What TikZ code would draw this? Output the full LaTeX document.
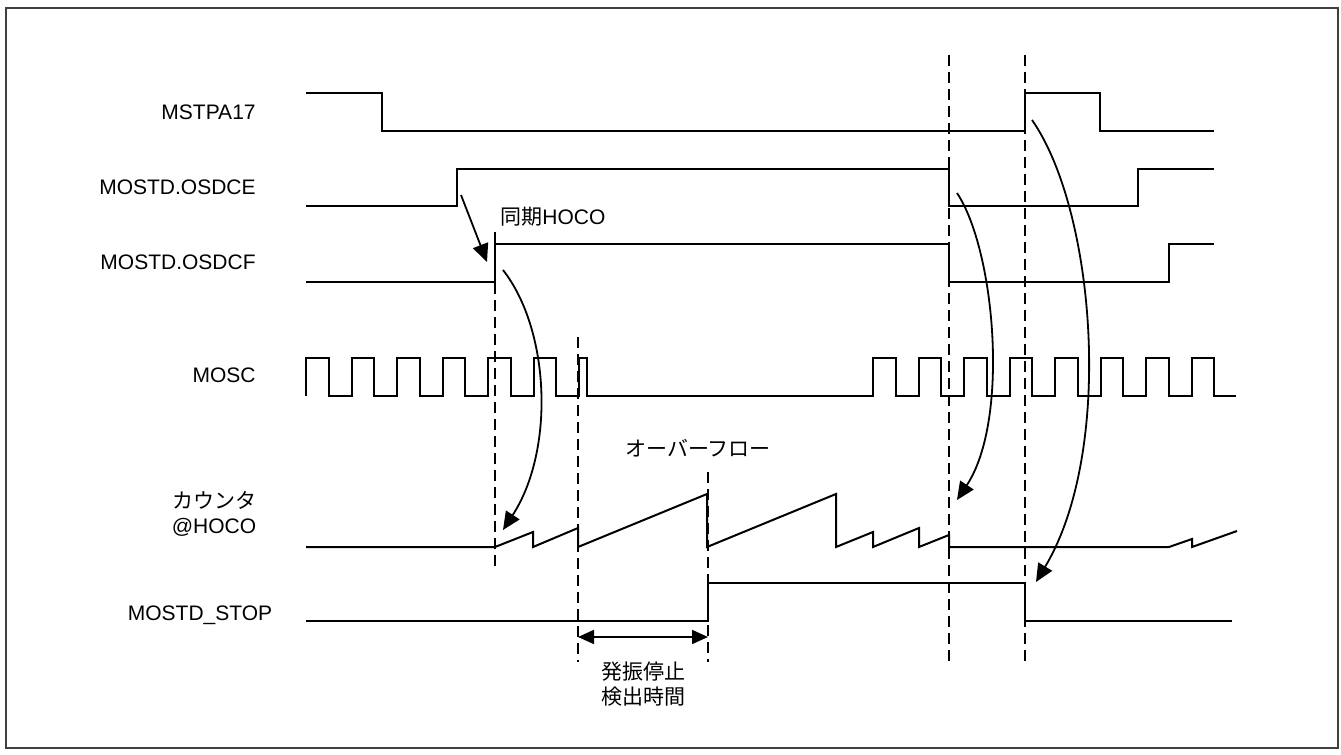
\documentclass[tikz,border=0pt]{standalone}
\usepackage{fontspec}
\setmainfont{Liberation Sans}
\newfontfamily\jpfont{Noto Sans CJK JP}
\usetikzlibrary{arrows.meta}

\begin{document}
\begin{tikzpicture}[x=0.5pt, y=-0.5pt,
                    signal/.style={line width=1pt, line join=miter},
                    marker/.style={line width=1pt, dash pattern=on 5.5pt off 3pt},
                    cause/.style={-{Triangle[length=9pt, width=8pt]}, line width=0.9pt},
                    span/.style={{Triangle[length=8pt, width=7pt]}-{Triangle[length=8pt, width=7pt]}, line width=0.9pt},
                    sigtext/.style={font=\fontsize{10.5}{12.5}\selectfont, inner sep=0pt}]

    \useasboundingbox (0,0) rectangle (1341,755);
    \draw[black!75, line width=0.75pt] (6,8) rectangle (1338,748);

    % signal names
    \node[sigtext, anchor=east] (n_mstpa) at (256,112) {MSTPA17};
    \node[sigtext, anchor=east] (n_osdce) at (256,187) {MOSTD.OSDCE};
    \node[sigtext, anchor=east] (n_osdcf) at (256,262) {MOSTD.OSDCF};
    \node[sigtext, anchor=east] (n_mosc)  at (256,375) {MOSC};
    \node[sigtext, align=center] (n_cnt)  at (214,514) {{\jpfont カウンタ}\\@HOCO};
    \node[sigtext] (n_stop) at (200,615) {MOSTD\_STOP};

    % waveforms
    \draw[signal] (306,93) -- (382,93) -- (382,131) -- (1025,131) -- (1025,93)
                  -- (1100,93) -- (1100,131) -- (1214,131);
    \draw[signal] (306,206) -- (457,206) -- (457,169) -- (949,169) -- (949,206)
                  -- (1138,206) -- (1138,169) -- (1214,169);
    \draw[signal] (306,282) -- (495,282) -- (495,244) -- (949,244) -- (949,282)
                  -- (1169,282) -- (1169,244) -- (1214,244);
    \draw[signal] (306,396) \foreach \k in {0,...,5} {
                      -- ({306+45.5*\k},358) -- ({328.75+45.5*\k},358)
                      -- ({328.75+45.5*\k},396) -- ({351.5+45.5*\k},396)}
                  -- (579,358) -- (586.5,358) -- (586.5,396) -- (873,396)
                  \foreach \k in {0,...,7} {
                      -- ({873+45.5*\k},396) -- ({873+45.5*\k},358)
                      -- ({895.75+45.5*\k},358) -- ({895.75+45.5*\k},396)}
                  -- (1236,396);
    \draw[signal] (306,547) -- (495,547) -- (533,532) -- (533,547) -- (578,528) -- (578,547)
                  -- (707,494) -- (707,547) -- (836,494) -- (836,547) -- (873,532) -- (873,547)
                  -- (919,528) -- (919,547) -- (949,535) -- (949,547) -- (1169,547)
                  -- (1192,539) -- (1192,547) -- (1237,531);
    \draw[signal] (306,621) -- (708,621) -- (708,583) -- (1025,583) -- (1025,621) -- (1232,621);

    % timing markers
    \draw[marker] (495,232) -- (495,570);
    \draw[marker] (578,337) -- (578,662);
    \draw[marker] (708,472) -- (708,662);
    \draw[marker] (949,55) -- (949,662);
    \draw[marker] (1025,55) -- (1025,662);

    % annotations
    \node[sigtext, anchor=west] (n_sync) at (500,217) {{\jpfont 同期}HOCO};
    \node[sigtext] (n_ovf) at (698,448) {\jpfont オーバーフロー};
    \node[sigtext, align=center] (n_det) at (643,684) {\jpfont 発振停止\\\jpfont 検出時間};

    \coordinate (d_from) at (578,637);
    \coordinate (d_to)   at (708,637);
    \draw[span] (d_from) -- (d_to);

    \coordinate (a1s) at (461,195);
    \coordinate (a1e) at (487,262);
    \coordinate (a2s) at (503,270);
    \coordinate (a2e) at (503,530);
    \coordinate (a3s) at (957,193);
    \coordinate (a3e) at (957,500);
    \coordinate (a4s) at (1032,120);
    \coordinate (a4e) at (1036,582);

    \draw[cause] (a1s) -- (a1e);
    \draw[cause] (a2s) .. controls (550,330) and (555,450) .. (a2e);
    \draw[cause] (a3s) .. controls (995,250) and (1010,420) .. (a3e);
    \draw[cause] (a4s) .. controls (1095,210) and (1115,450) .. (a4e);
\end{tikzpicture}
\end{document}
